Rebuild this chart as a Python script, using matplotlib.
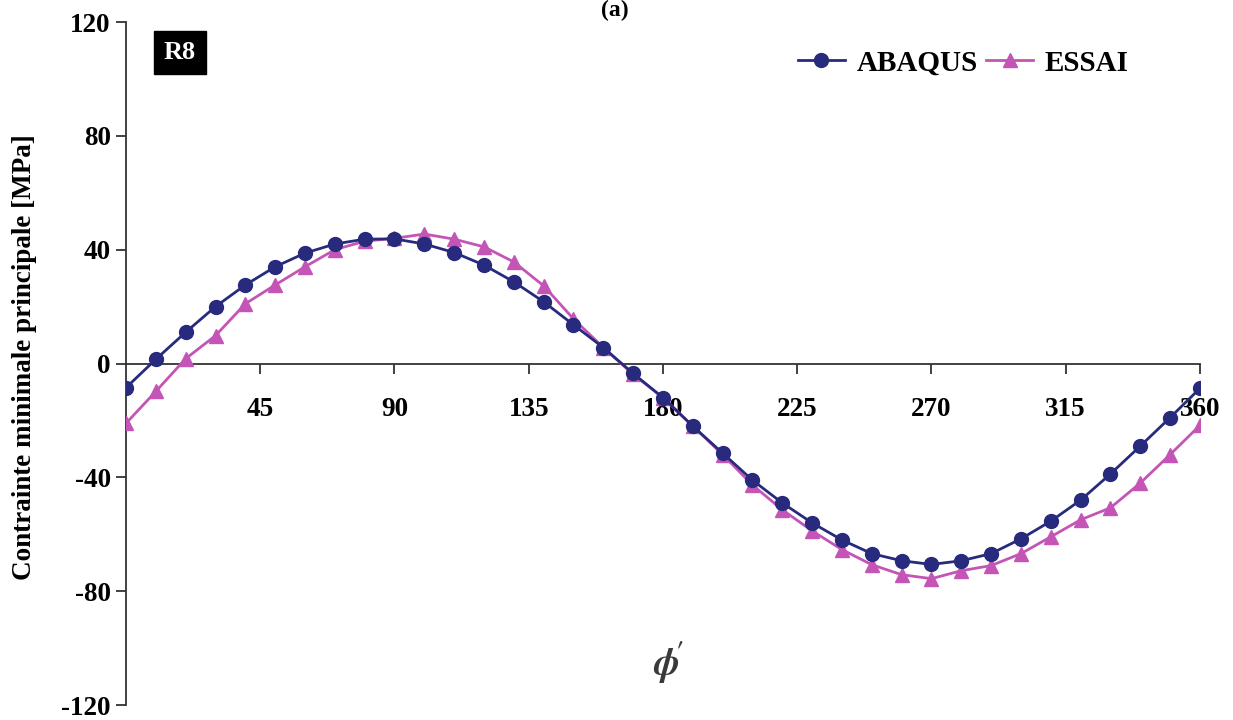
import matplotlib
matplotlib.use("Agg")
import matplotlib.pyplot as plt

phi = list(range(0, 361, 10))
abaqus = [-8.5, 1.5, 11, 20, 27.6, 34, 38.8, 42, 43.7, 43.8, 42, 39, 34.6, 28.7, 21.7, 13.6, 5.6, -3.5,
          -12, -22, -31.5, -41, -49, -56, -62, -66.8, -69.3, -70.6, -69.3, -66.8, -61.6, -55.4,
          -48, -38.8, -29, -19, -8.7]
essai = [-21, -9.8, 1.7, 9.8, 21, 27.6, 34, 40, 43, 44, 45.5, 43.7, 41, 35.7, 27.3, 15.7, 5.6, -3.8,
         -12, -22, -32, -42.7, -51.4, -58.8, -65.4, -70.7, -74.2, -75.6, -72.8, -71, -66.8, -60.9,
         -54.9, -50.7, -42, -32, -21.7]
xticks = [45, 90, 135, 180, 225, 270, 315, 360]
yticks = [-120, -80, -40, 0, 40, 80, 120]

plt.rcParams['font.family'] = ['Liberation Serif', 'DejaVu Serif']
plt.rcParams['font.weight'] = 'bold'
plt.rcParams['mathtext.fontset'] = 'stix'
plt.rcParams['axes.unicode_minus'] = False

fig = plt.figure(figsize=(12.33, 7.2), dpi=100)
ax = fig.add_axes([0.1022, 0.0208, 0.8710, 0.9486])

c_ab = '#272A7D'
c_es = '#C455B6'
ax.plot(phi, abaqus, color=c_ab, lw=2.0, marker='o', ms=10, label='ABAQUS', zorder=4)
ax.plot(phi, essai, color=c_es, lw=2.0, marker='^', ms=10.5, label='ESSAI', zorder=3)

ax.set_xlim(0, 360)
ax.set_ylim(-120, 120)
ax.spines['top'].set_visible(False)
ax.spines['right'].set_visible(False)
ax.spines['bottom'].set_position(('data', 0))
for s in ('left', 'bottom'):
    ax.spines[s].set_color('#333333')
    ax.spines[s].set_linewidth(1.3)
ax.set_xticks(xticks)
ax.set_yticks(yticks)
ax.tick_params(axis='x', direction='out', length=7, width=1.3, color='#333333', labelsize=19.5, pad=17)
ax.tick_params(axis='y', direction='out', length=7, width=1.3, color='#333333', labelsize=19.5, pad=4)
for lab in ax.get_xticklabels() + ax.get_yticklabels():
    lab.set_fontweight('bold')

ax.set_ylabel('Contrainte minimale principale [MPa]', fontsize=19.5, fontweight='bold')
ax.yaxis.set_label_coords(-0.083, 0.51)

ax.text(0.050, 0.955, 'R8', transform=ax.transAxes, fontsize=19, fontweight='bold', color='white',
        ha='center', va='center', bbox=dict(boxstyle='square,pad=0.38', fc='black', ec='black'))

leg = ax.legend(loc='center right', bbox_to_anchor=(0.958, 0.940), ncol=2, frameon=False,
                prop={'family': 'Liberation Serif', 'weight': 'bold', 'size': 21},
                handlelength=1.6, handletextpad=0.4, columnspacing=0.3)

fig.text(668 / 1233, 1 - 663 / 720, r"$\phi\!'$", fontsize=28, color='#3a3a3a', ha='center', va='center')
fig.text(0.499, 1.0, '(a)', fontsize=17, fontweight='bold', ha='center', va='top')

fig.savefig('out.png', dpi=100)
